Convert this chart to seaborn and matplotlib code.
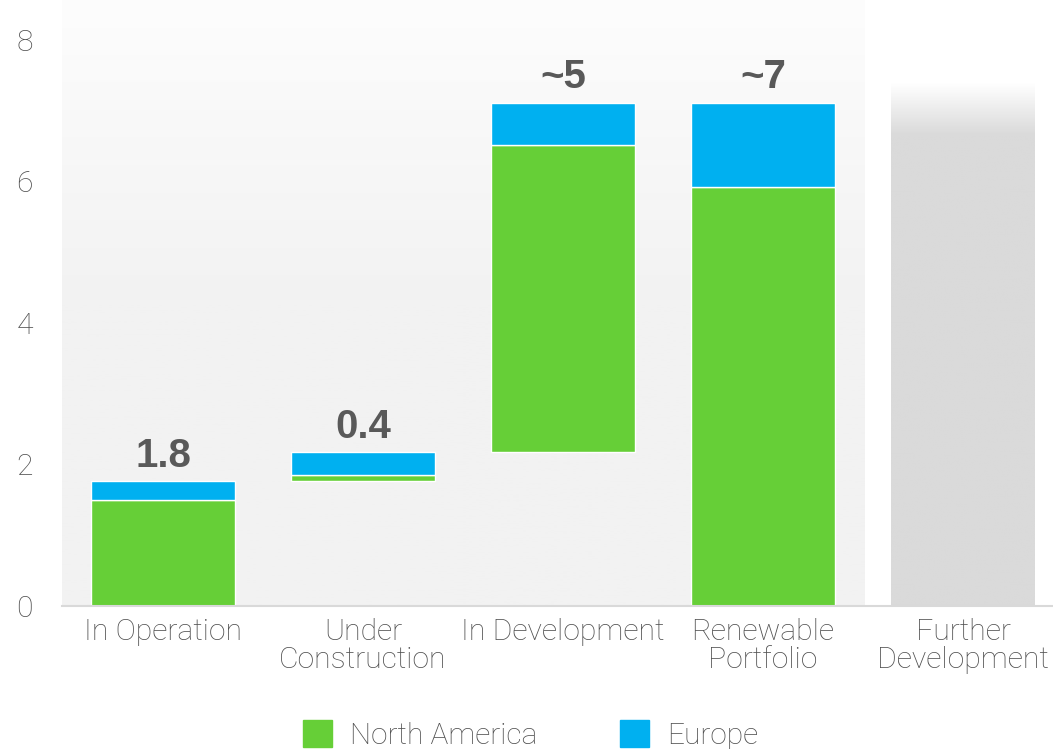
import numpy as np
import seaborn as sns
import matplotlib.pyplot as plt
from matplotlib.colors import LinearSegmentedColormap
from matplotlib.patches import Patch

categories = ['In Operation', 'Under\nConstruction', 'In Development',
              'Renewable\nPortfolio', 'Further\nDevelopment']
north_america = [1.50, 0.08, 4.33, 5.92, 0.0]
europe = [0.26, 0.32, 0.60, 1.19, 0.0]
base = [0.0, 1.77, 2.18, 0.0, 0.0]
further = [0.0, 0.0, 0.0, 0.0, 7.39]
labels = ['1.8', '0.4', '~5', '~7']

GREEN = '#66cf37'
BLUE = '#00b0f0'
GREY = '#dadada'
TXT = '#595959'
LIGHT_TXT = '#4f4f4f'

sns.set_style('white')
plt.rcParams['font.family'] = ['Roboto', 'DejaVu Sans']

fig = plt.figure(figsize=(10.53, 7.49), dpi=100)
ax = fig.add_axes([0.0589, 0.1909, 0.9411, 0.8091])

green_top = [b + g for b, g in zip(base, north_america)]

sns.barplot(x=categories, y=north_america, bottom=base, order=categories,
            color=GREEN, saturation=1, width=0.72, errorbar=None,
            edgecolor='white', linewidth=1, ax=ax, zorder=3)
sns.barplot(x=categories, y=europe, bottom=green_top, order=categories,
            color=BLUE, saturation=1, width=0.72, errorbar=None,
            edgecolor='white', linewidth=1, ax=ax, zorder=3)
sns.barplot(x=categories, y=further, order=categories,
            color=GREY, saturation=1, width=0.72, errorbar=None,
            linewidth=0, ax=ax, zorder=2)

ymax = 8.56
xlo, xhi = -0.505, 4.45

# light grey panel behind the first four columns, fading up to white
bg_cmap = LinearSegmentedColormap.from_list('bg', ['#f2f2f2', '#f2f2f2', '#fdfdfd'])
grad = np.linspace(0, 1, 256).reshape(-1, 1)
ax.imshow(grad, cmap=bg_cmap, origin='lower', aspect='auto',
          extent=(xlo, 3.51, 0, ymax), zorder=0)

# fade top of the "further development" column
gbar = ax.patches[-1]
gx, gw, gh = gbar.get_x(), gbar.get_width(), gbar.get_height()
fade = LinearSegmentedColormap.from_list(
    'fade', [(0, GREY), (6.66 / gh, GREY), (1, 'white')])
im = ax.imshow(grad, cmap=fade, origin='lower', aspect='auto',
               extent=(gx, gx + gw, 0, gh), zorder=2.5)
im.set_clip_path(gbar)

ax.set_xlim(xlo, xhi)
ax.set_ylim(0, ymax)
ax.set_yticks([0, 2, 4, 6, 8])

tops = [g + e for g, e in zip(green_top, europe)]
for i, lab in enumerate(labels):
    ax.text(i, tops[i] + 0.21, lab, ha='center', va='baseline',
            fontsize=29, fontweight='bold', color=TXT,
            family=['Liberation Sans', 'DejaVu Sans'])

for s in ['top', 'right', 'left']:
    ax.spines[s].set_visible(False)
ax.spines['bottom'].set_color('#d9d9d9')
ax.spines['bottom'].set_linewidth(1.5)
ax.spines['bottom'].set_zorder(4)
ax.tick_params(axis='both', length=0, labelsize=21.7, labelcolor=LIGHT_TXT)
ax.tick_params(axis='y', pad=21)
ax.tick_params(axis='x', pad=8.5)
for t in ax.get_xticklabels() + ax.get_yticklabels():
    t.set_fontweight('light')
for t in ax.get_xticklabels():
    t.set_linespacing(1.03)
ax.set_xlabel('')
ax.set_ylabel('')

handles = [Patch(color=GREEN, label='North America'),
           Patch(color=BLUE, label='Europe')]
leg = fig.legend(handles=handles, loc='lower center', bbox_to_anchor=(0.504, -0.003),
                 ncol=2, frameon=False, fontsize=21.5, handlelength=0.97,
                 handleheight=0.97, handletextpad=0.62, columnspacing=2.75,
                 borderpad=0.05, borderaxespad=0)
for t in leg.get_texts():
    t.set_color(LIGHT_TXT)
    t.set_fontweight('light')

fig.savefig('out.png', dpi=100)
